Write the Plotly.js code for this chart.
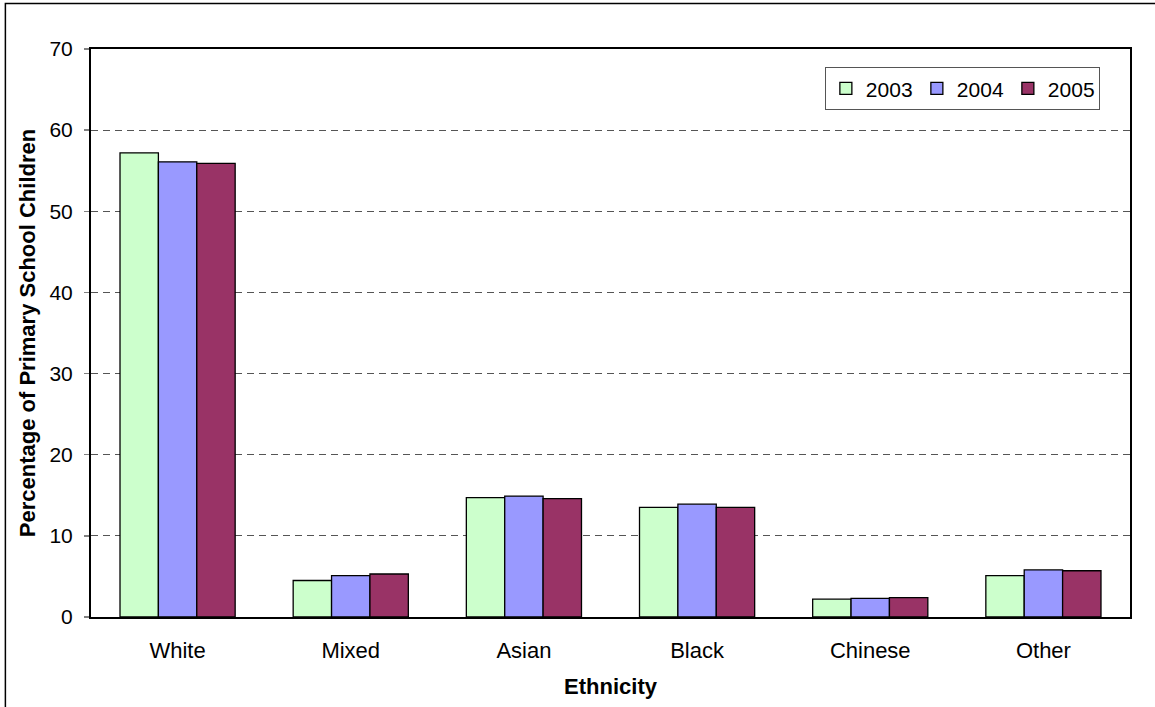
<!DOCTYPE html>
<html>
<head>
<meta charset="utf-8">
<script src="https://cdn.plot.ly/plotly-3.0.1.min.js"></script>
<style>
  html, body { margin: 0; padding: 0; background: #ffffff; }
  #chart { width: 1155px; height: 707px; }
</style>
</head>
<body>
<div id="chart"></div>
<script>
// Share of primary school children by ethnic group, 2003-2005
const categories = ['White', 'Mixed', 'Asian', 'Black', 'Chinese', 'Other'];
const years = ['2003', '2004', '2005'];
const values2003 = [57.2, 4.5, 14.7, 13.5, 2.2, 5.1];
const values2004 = [56.1, 5.1, 14.9, 13.9, 2.3, 5.8];
const values2005 = [55.9, 5.3, 14.6, 13.5, 2.4, 5.7];
const yTickValues = [0, 10, 20, 30, 40, 50, 60, 70];

const seriesValues = [values2003, values2004, values2005];
const fillColors = ['#CCFFCC', '#9999FF', '#993366'];

const FONT = 'Liberation Sans, Arial, sans-serif';

const traces = years.map((yr, i) => ({
  type: 'bar',
  name: yr,
  x: categories,
  y: seriesValues[i],
  marker: { color: fillColors[i], line: { color: '#000000', width: 1.3 } },
  hoverinfo: 'x+y+name'
}));

const layout = {
  width: 1155,
  height: 707,
  margin: { l: 91, r: 25, t: 49, b: 90, pad: 0 },
  paper_bgcolor: '#ffffff',
  plot_bgcolor: '#ffffff',
  font: { family: FONT, size: 21, color: '#000000' },
  barmode: 'group',
  bargap: 0.335,
  bargroupgap: 0,
  showlegend: true,
  legend: {
    orientation: 'h',
    x: 0.971, xanchor: 'right',
    y: 0.968, yanchor: 'top',
    bgcolor: '#ffffff',
    bordercolor: '#555555',
    borderwidth: 1,
    font: { family: FONT, size: 21, color: '#000000' },
    entrywidth: 46,
    entrywidthmode: 'pixels',
    itemwidth: 30,
    traceorder: 'normal'
  },
  xaxis: {
    type: 'category',
    categoryorder: 'array',
    categoryarray: categories,
    showline: true,
    linecolor: '#000000',
    linewidth: 2,
    mirror: true,
    ticks: '',
    showgrid: false,
    zeroline: false,
    tickfont: { family: FONT, size: 22, color: '#000000' },
    ticklabelstandoff: 13,
    title: {
      text: '<b>Ethnicity</b>',
      font: { family: FONT, size: 22, color: '#000000' },
      standoff: 16
    }
  },
  yaxis: {
    range: [0, 70],
    tickmode: 'array',
    tickvals: yTickValues,
    ticktext: yTickValues.map(String),
    showline: true,
    linecolor: '#000000',
    linewidth: 2,
    mirror: true,
    ticks: 'outside',
    ticklen: 5,
    tickwidth: 1.5,
    tickcolor: '#808080',
    showgrid: true,
    gridcolor: '#555555',
    gridwidth: 1,
    griddash: '7px,5px',
    zeroline: false,
    tickfont: { family: FONT, size: 21, color: '#000000' },
    ticklabelstandoff: 7,
    title: {
      text: '<b>Percentage of Primary School Children</b>',
      font: { family: FONT, size: 22, color: '#000000' },
      standoff: 8
    }
  },
  shapes: [{
    type: 'rect',
    xref: 'paper', yref: 'paper',
    x0: -0.0824, x1: 1.2,
    y0: -0.2, y1: 1.0801,
    line: { color: '#000000', width: 1.5 },
    fillcolor: 'rgba(0,0,0,0)',
    layer: 'below'
  }]
};

Plotly.newPlot('chart', traces, layout, { displayModeBar: false, staticPlot: true });
</script>
</body>
</html>
